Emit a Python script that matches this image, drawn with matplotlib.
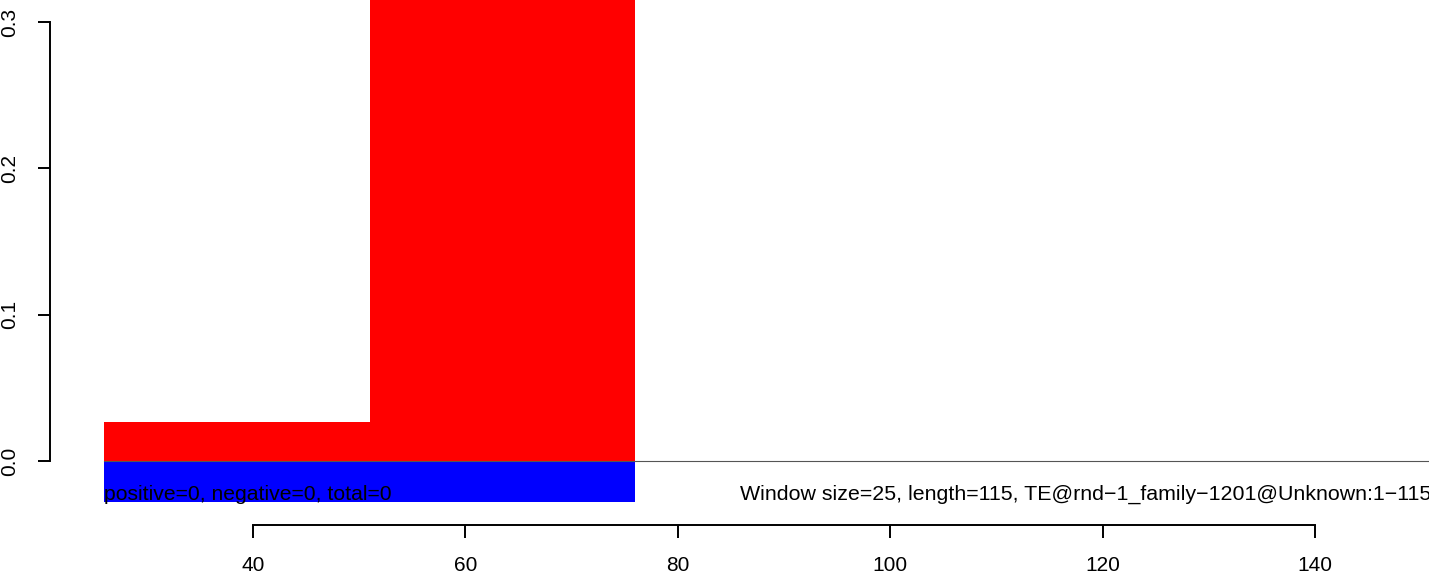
import matplotlib
matplotlib.use("Agg")
import matplotlib.pyplot as plt

plt.rcParams['font.family'] = ['Liberation Sans', 'DejaVu Sans']

# data
bin_starts = [26, 51]
window = 25
pos_values = [0.0267, 0.40]
neg_values = [-0.028, -0.028]
x_ticks = [40, 60, 80, 100, 120, 140]
y_ticks = [0.0, 0.1, 0.2, 0.3]
y_tick_labels = ["0.0", "0.1", "0.2", "0.3"]
left_text = "positive=0, negative=0, total=0"
right_text = "Window size=25, length=115, TE@rnd\u22121_family\u22121201@Unknown:1\u2212115"

W, H = 1429, 573
fig = plt.figure(figsize=(W / 100, H / 100), dpi=100)
ax_left_px, ax_bottom_px = 50, 525
ax = fig.add_axes([ax_left_px / W, (H - ax_bottom_px) / H, 1 - ax_left_px / W, ax_bottom_px / H])

px_per_x = (1315 - 253) / 100.0
x0 = 40 - (253 - ax_left_px) / px_per_x
x1 = 40 + (W - 253) / px_per_x
px_per_y = (461 - 22) / 0.3
y0 = -(ax_bottom_px - 461) / px_per_y
y1 = 0.3 + 22 / px_per_y
ax.set_xlim(x0, x1)
ax.set_ylim(y0, y1)

ax.bar(bin_starts, pos_values, width=window, align='edge', color='#ff0000', linewidth=0)
ax.bar(bin_starts, neg_values, width=window, align='edge', color='#0000ff', linewidth=0)
ax.plot([bin_starts[0], x1 + 10], [0, 0], color='#555555', linewidth=0.8)

ax.text(bin_starts[0], neg_values[0] * 0.95, left_text, ha='left', va='baseline',
        fontsize=15.2, color='black', clip_on=False)
ax.text(85.85, neg_values[0] * 0.95, right_text, ha='left', va='baseline',
        fontsize=15.4, color='black', clip_on=False)

for s in ['top', 'right']:
    ax.spines[s].set_visible(False)
ax.spines['left'].set_bounds(0, 0.3)
ax.spines['bottom'].set_bounds(40, 140)
for s in ['left', 'bottom']:
    ax.spines[s].set_linewidth(1.4)
ax.set_xticks(x_ticks)
ax.set_yticks(y_ticks)
ax.set_yticklabels(y_tick_labels, rotation=90, va='center')
ax.tick_params(axis='both', direction='out', length=9, width=1.4, labelsize=15)
ax.tick_params(axis='x', pad=13)
ax.tick_params(axis='y', pad=13)

fig.savefig("out.png", dpi=100)
